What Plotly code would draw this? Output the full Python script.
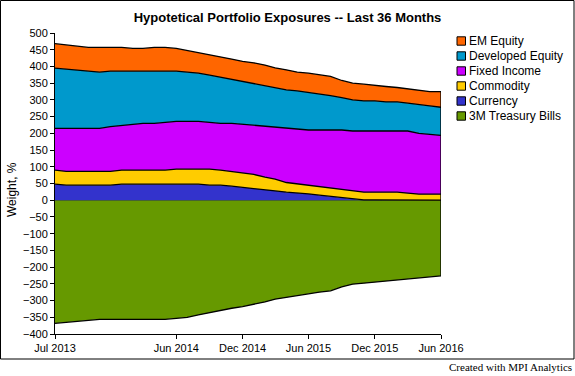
import plotly.graph_objects as go
import pandas as pd

# ---- data ----
months = pd.date_range("2013-07-01", "2016-06-01", freq="MS")

currency = [48, 45, 45, 45, 45, 45, 48, 48, 48, 48, 48, 48, 48, 48, 45, 45, 42, 39,
            35, 31, 28, 24, 22, 19, 15, 11, 8, 4, 1, 1, 1, 1, 0, 0, 0, 0]
commodity = [42, 41, 41, 41, 41, 41, 42, 42, 42, 42, 42, 45, 45, 45, 48, 45, 44, 42,
             42, 38, 35, 29, 27, 26, 26, 25, 24, 23, 23, 23, 23, 23, 21, 18, 18, 18]
fixed_income = [125, 129, 129, 129, 129, 134, 134, 137, 140, 140, 143, 143, 143, 143, 140, 140, 144, 146,
                147, 154, 155, 162, 164, 165, 169, 174, 178, 180, 183, 183, 183, 183, 186, 182, 179, 176]
developed_equity = [180, 177, 174, 170, 168, 166, 162, 159, 156, 156, 153, 150, 147, 144, 141, 138, 132, 129,
                    126, 121, 120, 115, 114, 113, 109, 103, 97, 93, 90, 90, 87, 87, 83, 85, 85, 84]
em_equity = [73, 72, 71, 72, 74, 71, 71, 68, 68, 71, 71, 68, 65, 60, 60, 60, 60, 59,
             61, 60, 58, 60, 56, 57, 56, 57, 51, 50, 50, 46, 46, 43, 43, 43, 43, 47]
treasury = [-368, -365, -362, -357, -356, -356, -356, -354, -354, -356, -356, -353, -350, -343, -336, -330, -323, -318,
            -312, -304, -296, -290, -285, -280, -275, -271, -259, -251, -248, -245, -242, -239, -236, -232, -229, -226]

legend_names = ["EM Equity", "Developed Equity", "Fixed Income", "Commodity", "Currency", "3M Treasury Bills"]
colors = {"EM Equity": "#FF6600", "Developed Equity": "#0099CC", "Fixed Income": "#CC00FF",
          "Commodity": "#FFCC00", "Currency": "#3333CC", "3M Treasury Bills": "#669900"}

tick_dates = ["2013-07-01", "2014-06-01", "2014-12-01", "2015-06-01", "2015-12-01", "2016-06-01"]
y_ticks = list(range(-400, 501, 50))

# ---- layout geometry ----
W, H = 575, 376
L, R, T, B = 55, 134, 33, 42
PW, PH = W - L - R, H - T - B


def px_x(px):
    return (px - L) / PW


def px_y(py):
    return 1 - (py - T) / PH


FONT = "Arial, Liberation Sans, sans-serif"
LINE_W = 1.3

fig = go.Figure()

fig.add_trace(go.Scatter(x=months, y=treasury, name="3M Treasury Bills", mode="lines",
                         fill="tozeroy", fillcolor=colors["3M Treasury Bills"],
                         line=dict(color="black", width=LINE_W), showlegend=False))

pos_series = [("Currency", currency), ("Commodity", commodity), ("Fixed Income", fixed_income),
              ("Developed Equity", developed_equity), ("EM Equity", em_equity)]
for name, vals in pos_series:
    fig.add_trace(go.Scatter(x=months, y=vals, name=name, mode="lines", stackgroup="pos",
                             fillcolor=colors[name], line=dict(color="black", width=LINE_W),
                             showlegend=False))

# right edge outline of the stacked areas
total_last = sum(v[-1] for _, v in pos_series)
fig.add_trace(go.Scatter(x=[months[-1], months[-1]], y=[treasury[-1], total_last], mode="lines",
                         line=dict(color="black", width=LINE_W), showlegend=False, hoverinfo="skip"))

shapes = []
annotations = []

# manual legend
for k, name in enumerate(legend_names):
    cy = 41 + 15 * k
    shapes.append(dict(type="rect", xref="paper", yref="paper",
                       x0=px_x(457), x1=px_x(465.5), y0=px_y(cy + 4.2), y1=px_y(cy - 4.2),
                       fillcolor=colors[name], line=dict(color="black", width=1)))
    annotations.append(dict(text=name, xref="paper", yref="paper", x=px_x(466.5), y=px_y(cy),
                            xanchor="left", yanchor="middle", showarrow=False,
                            font=dict(family=FONT, size=12, color="black")))

# outer border
shapes.append(dict(type="rect", xref="paper", yref="paper",
                   x0=px_x(0.5), x1=px_x(574), y0=px_y(359), y1=px_y(0.5),
                   line=dict(color="black", width=1), fillcolor="rgba(0,0,0,0)", layer="above"))

# y axis title
annotations.append(dict(text="Weight, %", xref="paper", yref="paper", x=px_x(12), y=px_y(190),
                        xanchor="center", yanchor="middle", textangle=-90, showarrow=False,
                        font=dict(family=FONT, size=12, color="black")))
# footer
annotations.append(dict(text="Created with MPI Analytics", xref="paper", yref="paper",
                        x=px_x(574), y=px_y(367), xanchor="right", yanchor="middle", showarrow=False,
                        font=dict(family="Times New Roman, Liberation Serif, serif", size=11, color="black")))

fig.update_layout(
    width=W, height=H,
    margin=dict(l=L, r=R, t=T, b=B),
    paper_bgcolor="white", plot_bgcolor="white",
    title=dict(text="<b>Hypotetical Portfolio Exposures -- Last 36 Months</b>",
               x=287.5 / W, xref="container", xanchor="center",
               y=1 - 17 / H, yref="container", yanchor="middle",
               font=dict(family=FONT, size=13, color="black")),
    font=dict(family=FONT, size=11, color="black"),
    showlegend=False,
    shapes=shapes,
    annotations=annotations,
    xaxis=dict(range=[months[0], months[-1]], tickvals=tick_dates, tickformat="%b %Y",
               showgrid=False, zeroline=False, showline=True, linecolor="black", linewidth=1,
               ticks="outside", ticklen=4, tickcolor="black", tickfont=dict(size=11, color="black"),
               layer="above traces", fixedrange=True),
    yaxis=dict(range=[-400, 500], tickvals=y_ticks, showgrid=False,
               zeroline=True, zerolinecolor="black", zerolinewidth=1.3,
               showline=True, linecolor="black", linewidth=1,
               ticks="outside", ticklen=4, tickcolor="black", tickfont=dict(size=11, color="black"),
               layer="above traces", fixedrange=True),
)

fig.write_html("out.html", config={"displayModeBar": False},
               post_script="document.body.style.margin='0';document.body.style.padding='0';")
